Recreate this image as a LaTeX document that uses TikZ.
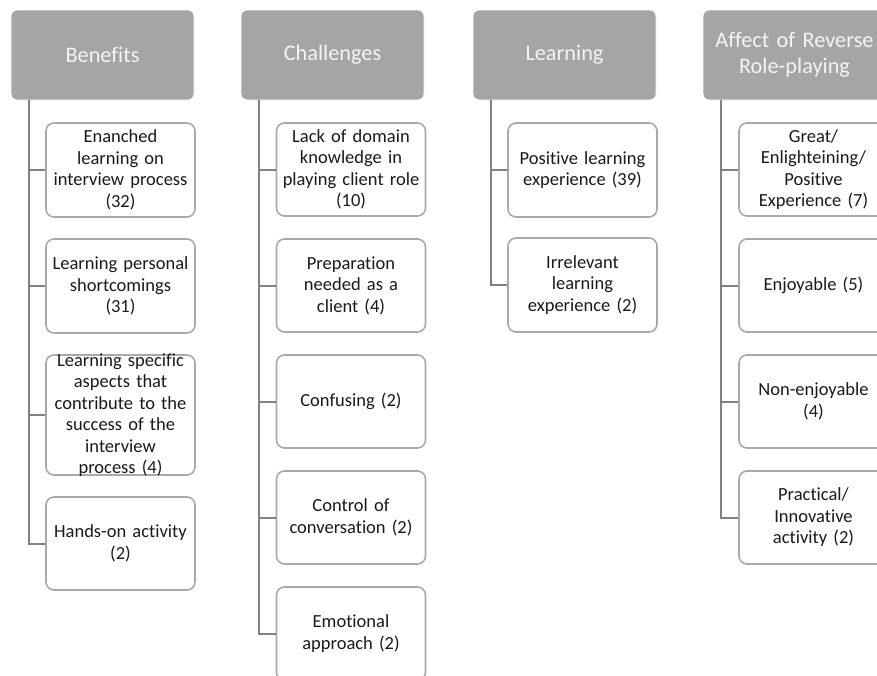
\documentclass[tikz,border=0pt]{standalone}
\usepackage{fontspec}
\setmainfont{Carlito}[Ligatures={NoCommon}, WordSpace=0.75]
\usetikzlibrary{calc}

\definecolor{headfill}{HTML}{A5A5A5}
\definecolor{boxline}{HTML}{A9A9A9}
\definecolor{connline}{HTML}{808080}
\definecolor{headtext}{HTML}{F4F4F4}
\definecolor{bodytext}{HTML}{1A1A1A}

\tikzset{
  header/.style={rectangle, rounded corners=6pt, fill=headfill, draw=white,
    line width=0.8pt, minimum width=183pt, minimum height=90pt,
    text width=181pt, align=center, inner sep=0pt, text=headtext,
    font=\fontsize{22.3}{26}\selectfont},
  item/.style={rectangle, rounded corners=8pt, fill=white, draw=boxline,
    line width=1.6pt, minimum width=149pt, text width=147pt, align=center,
    inner xsep=1pt, inner ysep=0pt, text=bodytext,
    font=\fontsize{18.5}{21.5}\selectfont},
  conn/.style={draw=connline, line width=2pt},
}

\begin{document}
\begin{tikzpicture}[x=1pt, y=-1pt]
  \useasboundingbox (0,0) rectangle (877,675);
  \clip (0,0) rectangle (877,675);

  % column headers
  \node[header] (hb) at (102.5,55) {Benefits};
  \node[header] (hc) at (332.5,55) {Challenges};
  \node[header] (hl) at (564.5,55) {Learning};
  \node[header] (ha) at (794.5,55) {Affect of Reverse\\Role-playing};

  % trunk positions below each header
  \coordinate (tb) at ($(hb.south west)+(18,0)$);
  \coordinate (tc) at ($(hc.south west)+(18,0)$);
  \coordinate (tl) at ($(hl.south west)+(18,0)$);
  \coordinate (ta) at ($(ha.south west)+(18,0)$);

  % Benefits
  \node[item, minimum height=94pt] (b1) at (120.5,170) {Enanched\\learning on\\interview process\\(32)};
  \node[item, minimum height=94pt] (b2) at (120.5,286) {Learning personal\\shortcomings\\(31)};
  \node[item, minimum height=120pt, inner ysep=-4pt] (b3) at (120.5,415) {Learning specific\\aspects that\\contribute to the\\success of the\\interview\\process (4)};
  \node[item, minimum height=93pt] (b4) at (120.5,543.5) {Hands-on activity\\(2)};

  % Challenges
  \node[item, minimum height=93pt] (c1) at (351,169.5) {Lack of domain\\knowledge in\\playing client role\\(10)};
  \node[item, minimum height=93pt] (c2) at (351,285.5) {Preparation\\needed as a\\client (4)};
  \node[item, minimum height=93pt] (c3) at (351,401.5) {Confusing (2)};
  \node[item, minimum height=93pt] (c4) at (351,517.5) {Control of\\conversation (2)};
  \node[item, minimum height=93pt] (c5) at (351,633.5) {Emotional\\approach (2)};

  % Learning
  \node[item, minimum height=94pt] (l1) at (582.5,170) {Positive learning\\experience (39)};
  \node[item, minimum height=94pt] (l2) at (582.5,285) {Irrelevant\\learning\\experience (2)};

  % Affect of reverse role-playing
  \node[item, minimum height=93pt] (a1) at (813.5,169.5) {Great/\\Enlighteining/\\Positive\\Experience (7)};
  \node[item, minimum height=93pt] (a2) at (813.5,285.5) {Enjoyable (5)};
  \node[item, minimum height=93pt] (a3) at (813.5,401.5) {Non-enjoyable\\(4)};
  \node[item, minimum height=93pt] (a4) at (813.5,517.5) {Practical/\\Innovative\\activity (2)};

  % connectors: trunk down to the last item, then a tick to every item
  \draw[conn] (tb) |- (b4.west);
  \foreach \n in {b1,b2,b3} \draw[conn] (\n.west) -- (\n.west -| tb);

  \draw[conn] (tc) |- (c5.west);
  \foreach \n in {c1,c2,c3,c4} \draw[conn] (\n.west) -- (\n.west -| tc);

  \draw[conn] (tl) |- (l2.west);
  \draw[conn] (l1.west) -- (l1.west -| tl);

  \draw[conn] (ta) |- (a4.west);
  \foreach \n in {a1,a2,a3} \draw[conn] (\n.west) -- (\n.west -| ta);
\end{tikzpicture}
\end{document}
